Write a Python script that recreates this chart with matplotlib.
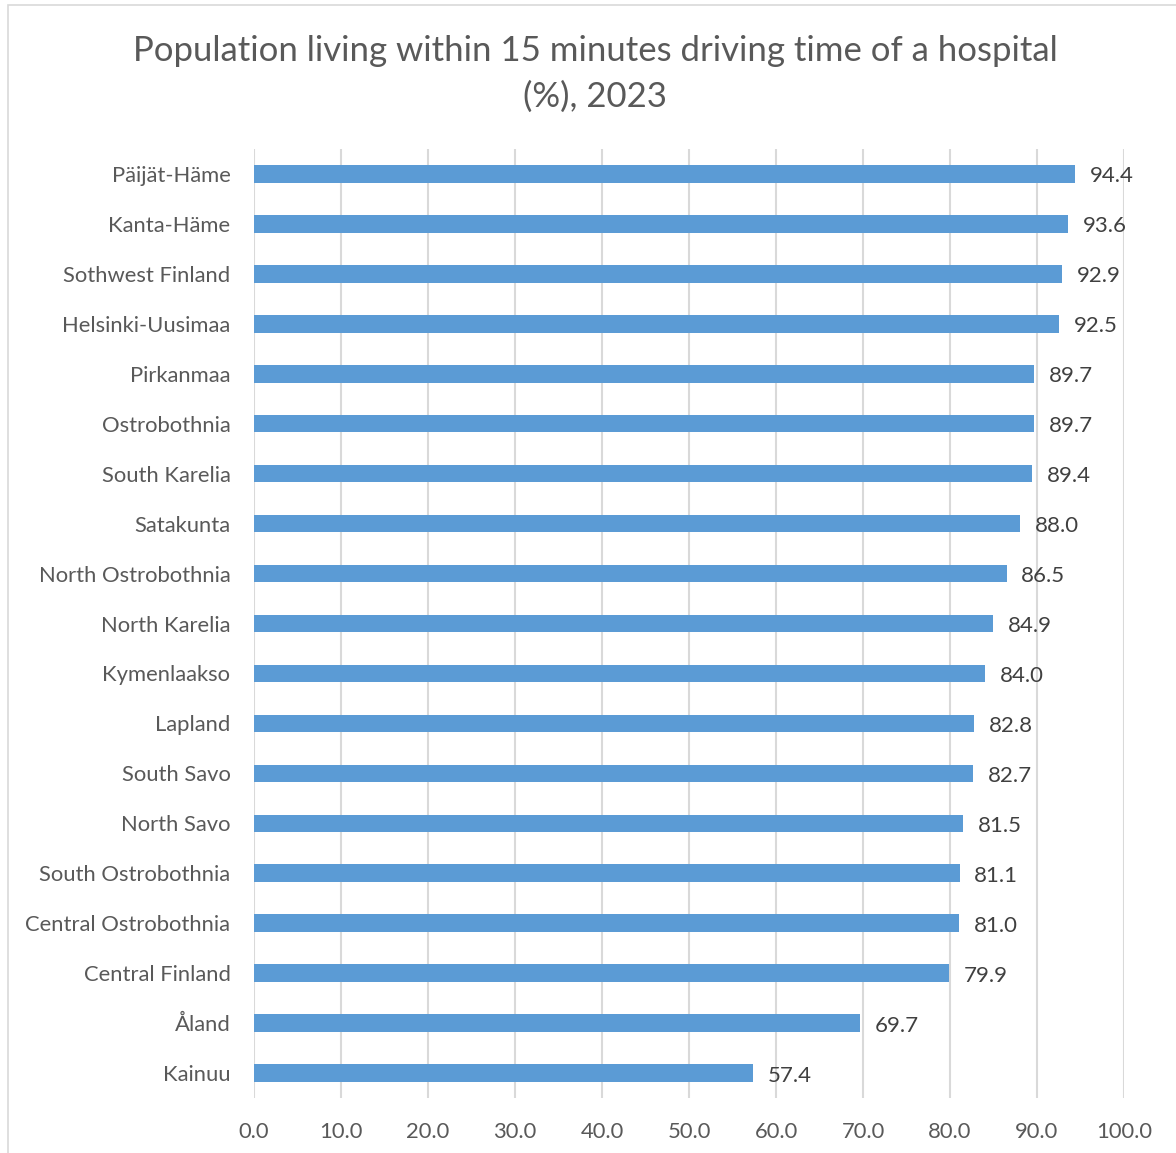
import matplotlib.pyplot as plt
from matplotlib.patches import Rectangle

# Data (top to bottom)
regions = ['Päijät-Häme', 'Kanta-Häme', 'Sothwest Finland', 'Helsinki-Uusimaa',
           'Pirkanmaa', 'Ostrobothnia', 'South Karelia', 'Satakunta',
           'North Ostrobothnia', 'North Karelia', 'Kymenlaakso', 'Lapland',
           'South Savo', 'North Savo', 'South Ostrobothnia', 'Central Ostrobothnia',
           'Central Finland', 'Åland', 'Kainuu']
values = [94.4, 93.6, 92.9, 92.5, 89.7, 89.7, 89.4, 88.0, 86.5, 84.9,
          84.0, 82.8, 82.7, 81.5, 81.1, 81.0, 79.9, 69.7, 57.4]
xticks = [0, 10, 20, 30, 40, 50, 60, 70, 80, 90, 100]

text_color = '#595959'
bar_color = '#5B9BD5'
grid_color = '#D9D9D9'

plt.rcParams['font.family'] = ['Lato', 'DejaVu Sans']

fig = plt.figure(figsize=(11.76, 11.53), dpi=100)
ax = fig.add_axes([254 / 1176, 1 - 1098 / 1153, 870 / 1176, 949 / 1153])

# light frame around the chart area (cropped at right/bottom)
fig.patches.append(Rectangle((8 / 1176, -0.1), 1.2, 1 - 5 / 1153 + 0.1,
                             transform=fig.transFigure, fill=False,
                             edgecolor=grid_color, linewidth=1.2))

pos = list(range(len(regions)))
ax.barh(pos, values, height=0.35, color=bar_color, zorder=3)

for p, v in zip(pos, values):
    ax.text(v + 1.7, p + 0.05, f'{v:.1f}', va='center', ha='left',
            fontsize=16, color='#404040')

ax.set_xlim(0, 100)
ax.set_ylim(len(regions) - 0.5, -0.5)
ax.set_yticks(pos)
ax.set_yticklabels(regions)
ax.set_xticks(xticks)
ax.set_xticklabels([f'{t:.1f}' for t in xticks])
ax.tick_params(axis='both', length=0, labelsize=15.8, colors=text_color)
ax.tick_params(axis='y', pad=17)
ax.tick_params(axis='x', pad=17)
ax.grid(axis='x', color=grid_color, linewidth=1.5, zorder=0)
for s in ax.spines.values():
    s.set_visible(False)

fig.text(595 / 1176, 1 - 74 / 1153,
         'Population living within 15 minutes driving time of a hospital\n(%), 2023',
         ha='center', va='center', fontsize=25, color=text_color, linespacing=1.55)

fig.savefig('out.png', dpi=100)
